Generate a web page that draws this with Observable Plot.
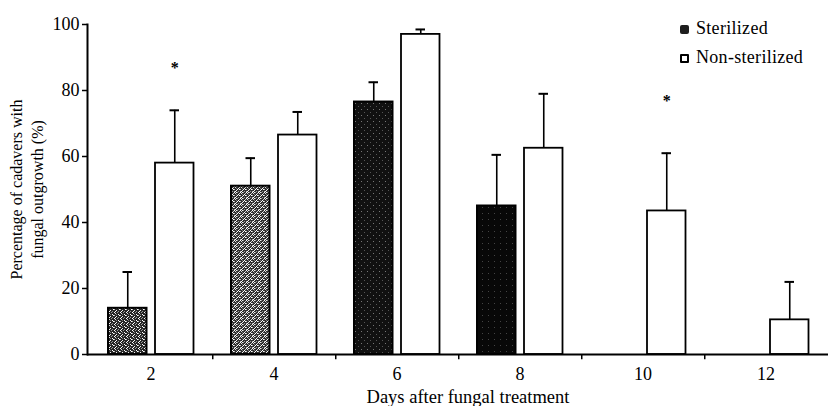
<!DOCTYPE html>
<html><head><meta charset="utf-8">
<script src="https://cdn.jsdelivr.net/npm/d3@7"></script>
<script src="https://cdn.jsdelivr.net/npm/@observablehq/plot@0.6"></script>
<style>
body{margin:0;background:#fff;font-family:"Liberation Serif","Times New Roman",serif;color:#000}
#wrap{position:relative;width:828px;height:406px}
#wrap svg g[aria-label$="tick label"]{font-size:18px;font-family:"Liberation Serif","Times New Roman",serif}
.legend{position:absolute;left:680px;top:14px;font-size:18px;line-height:29px;letter-spacing:0.3px}
.legend div{white-space:nowrap}
.sw{display:inline-block;width:9px;height:9px;box-sizing:border-box;margin-right:7px;vertical-align:0px}
.sw.s{background:#1e1e1e;border-radius:2px}
.sw.n{border:2px solid #000;background:#fff;border-radius:1px}
</style></head>
<body><div id="wrap"></div>
<script>
// ---- data ----
const days = [2, 4, 6, 8, 10, 12];
const sterilized = [14, 51, 76.5, 45, 0, 0];
const sterilizedErr = [11, 8.5, 6, 15.5, 0, 0];
const nonSterilized = [58, 66.5, 97, 62.5, 43.5, 10.5];
const nonSterilizedErr = [16, 7, 1.5, 16.5, 17.5, 11.5];
const significantDays = [2, 10];
const significantMarkY = [87, 77];
const yTicks = [0, 20, 40, 60, 80, 100];
const seriesNames = ["Sterilized", "Non-sterilized"];
const yLabel = "Percentage of cadavers with\nfungal outgrowth (%)";
const xLabel = "Days after fungal treatment";

// ---- layout / style ----
const W = 828, H = 406, ML = 87, MT = 24, MB = 52, MR = 0;
const bw = (W - ML - MR) / days.length;
const barW = 39, sLeft = 19, nLeft = 66, capW = 10;
const sCenter = sLeft + barW / 2, nCenter = nLeft + barW / 2;
const sOff = sCenter - bw / 2, nOff = nCenter - bw / 2;
const sterFill = {2: "url(#pmid)", 4: "url(#plight)", 6: "url(#pdark)", 8: "url(#pblack)"};
const tickLen = 1.6; // in y units, below the baseline

const S = days.map((d, i) => ({day: d, v: sterilized[i], e: sterilizedErr[i]})).filter(d => d.v > 0);
const N = days.map((d, i) => ({day: d, v: nonSterilized[i], e: nonSterilizedErr[i]}));
const stars = significantDays.map((d, i) => ({day: d, y: significantMarkY[i]}));

const plot = Plot.plot({
  width: W, height: H,
  marginLeft: ML, marginTop: MT, marginBottom: MB, marginRight: MR,
  style: {fontFamily: "'Liberation Serif', 'Times New Roman', serif", fontSize: "18px", color: "#000", background: "#fff"},
  x: {type: "band", domain: days, padding: 0},
  y: {domain: [0, 100]},
  color: {type: "identity"},
  marks: [
    // error bars
    Plot.ruleX(S, {x: "day", y1: "v", y2: d => d.v + d.e, dx: sOff, stroke: "#000", strokeWidth: 1.6}),
    Plot.ruleX(N, {x: "day", y1: "v", y2: d => d.v + d.e, dx: nOff, stroke: "#000", strokeWidth: 1.6}),
    Plot.tickY(S, {x: "day", y: d => d.v + d.e, insetLeft: sCenter - capW / 2, insetRight: bw - sCenter - capW / 2, stroke: "#000", strokeWidth: 2}),
    Plot.tickY(N, {x: "day", y: d => d.v + d.e, insetLeft: nCenter - capW / 2, insetRight: bw - nCenter - capW / 2, stroke: "#000", strokeWidth: 2}),
    // bars
    Plot.barY(S, {x: "day", y: "v", fill: d => sterFill[d.day], stroke: "#000", strokeWidth: 2, insetLeft: sLeft, insetRight: bw - sLeft - barW}),
    Plot.barY(N, {x: "day", y: "v", fill: "#fff", stroke: "#000", strokeWidth: 1.8, insetLeft: nLeft, insetRight: bw - nLeft - barW}),
    // significance asterisks
    Plot.text(stars, {x: "day", y: "y", text: () => "*", dx: nOff, fontSize: 16, fontWeight: "bold"}),
    // axes
    Plot.frame({anchor: "left", stroke: "#000", strokeWidth: 2}),
    Plot.ruleY([0], {stroke: "#000", strokeWidth: 2}),
    Plot.ruleX(days.slice(0, -1), {x: d => d, y1: 0, y2: -tickLen, dx: bw / 2, stroke: "#000", strokeWidth: 1.5}),
    Plot.axisY({ticks: yTicks, tickSize: 5, tickPadding: 3, fontSize: 18, label: null, strokeWidth: 1.5}),
    Plot.axisX({tickSize: 0, tickPadding: 13, fontSize: 18, label: null}),
    Plot.text([yLabel], {frameAnchor: "left", dx: -62, rotate: -90, fontSize: 16, lineHeight: 1.35, textAnchor: "middle"}),
    Plot.text([xLabel], {frameAnchor: "bottom", dx: 10, dy: 48, lineAnchor: "bottom", fontSize: 18.5})
  ]
});

// stipple patterns for the sterilized bars
const ns = "http://www.w3.org/2000/svg";
const defs = document.createElementNS(ns, "defs");
function pattern(id, base, dots) {
  const p = document.createElementNS(ns, "pattern");
  p.setAttribute("id", id); p.setAttribute("width", 6); p.setAttribute("height", 6);
  p.setAttribute("patternUnits", "userSpaceOnUse");
  const r = document.createElementNS(ns, "rect");
  r.setAttribute("width", 6); r.setAttribute("height", 6); r.setAttribute("fill", base);
  p.appendChild(r);
  dots.forEach(([x, y, c]) => {
    const q = document.createElementNS(ns, "rect");
    q.setAttribute("x", x); q.setAttribute("y", y); q.setAttribute("width", 1); q.setAttribute("height", 1); q.setAttribute("fill", c);
    p.appendChild(q);
  });
  defs.appendChild(p);
}
const midDots = [[0,0,"#fff"],[3,0,"#999"],[1,1,"#ddd"],[4,2,"#fff"],[2,2,"#777"],[0,3,"#bbb"],[5,3,"#fff"],[2,4,"#eee"],[4,5,"#999"],[1,5,"#fff"]];
pattern("pmid", "#262626", midDots);
pattern("plight", "#2e2e2e", midDots.concat([[3,3,"#fff"],[0,5,"#aaa"],[2,0,"#eee"],[5,1,"#ccc"]]));
pattern("pdark", "#111", [[1,1,"#777"],[4,4,"#555"]]);
pattern("pblack", "#080808", [[2,3,"#444"]]);
plot.insertBefore(defs, plot.firstChild);

const wrap = document.getElementById("wrap");
wrap.appendChild(plot);
const leg = document.createElement("div");
leg.className = "legend";
leg.innerHTML = seriesNames.map((s, i) => `<div><span class="sw ${i === 0 ? "s" : "n"}"></span>${s}</div>`).join("");
wrap.appendChild(leg);
</script>
</body></html>
